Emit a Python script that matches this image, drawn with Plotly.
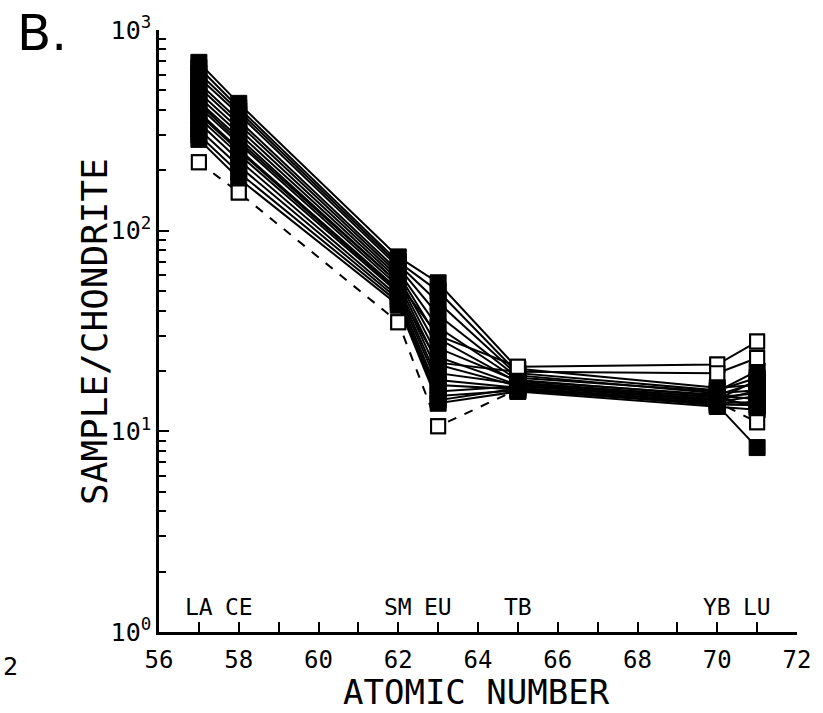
import plotly.graph_objects as go

# Rare earth elements plotted and their atomic numbers
elements = ["LA", "CE", "SM", "EU", "TB", "YB", "LU"]
atomic_numbers = [57, 58, 62, 63, 65, 70, 71]

# Chondrite-normalised abundances, filled-symbol samples (La, Ce, Sm, Eu, Tb, Yb, Lu)
s01 = [690, 431, 74, 55, 20.5, 16.5, 17]
s02 = [650, 410, 70, 50, 19.5, 16, 18.5]
s03 = [610, 395, 68, 44, 19, 15.5, 16]
s04 = [580, 380, 66, 38, 18.5, 15.8, 20]
s05 = [545, 355, 63, 33, 18, 15, 14.5]
s06 = [520, 340, 61, 29, 17.5, 14.8, 15.5]
s07 = [490, 322, 59, 26, 17.8, 15.2, 17.5]
s08 = [465, 305, 57, 23.5, 17, 14.5, 13.5]
s09 = [440, 290, 55, 21.5, 16.8, 14.2, 16]
s10 = [415, 272, 53, 19.5, 17.2, 14.8, 13.2]
s11 = [390, 255, 51, 18, 16.5, 14, 15]
s12 = [365, 240, 49, 17, 16.2, 13.8, 14]
s13 = [345, 225, 47, 15.8, 16.8, 14.4, 18]
s14 = [320, 210, 45.5, 15, 16, 13.6, 13.5]
s15 = [300, 195, 44, 14.3, 16.4, 13.5, 8.3]
s16 = [285, 182, 42.5, 13.8, 15.8, 13.3, 12.8]
filled_samples = [s01, s02, s03, s04, s05, s06, s07, s08,
                  s09, s10, s11, s12, s13, s14, s15, s16]

# Open-symbol samples
o_low = [219, 155, 35, 10.6, 16.2, 14, 11.1]     # dashed profile
o_flat = [430, 280, 55, 30, 21, 21.5, 28]
o_mid = [380, 250, 50, 22, 19.8, 19.5, 23.2]

x_ticks = [56, 58, 60, 62, 64, 66, 68, 70, 72]
y_ticks = [1, 10, 100, 1000]
y_tick_text = ["10<sup>0</sup>", "10<sup>1</sup>", "10<sup>2</sup>", "10<sup>3</sup>"]
y_minor = [m * d for d in [1, 10, 100] for m in range(2, 10)]

FONT = "DejaVu Sans Mono"
OPEN_MARKER = dict(symbol="square", size=14, color="white", line=dict(color="black", width=2))

fig = go.Figure()

def add_sample(values, open_symbol=False, dash="solid"):
    fig.add_trace(go.Scatter(
        x=atomic_numbers, y=values, mode="lines+markers",
        line=dict(color="black", width=2, dash=dash),
        marker=OPEN_MARKER if open_symbol else dict(
            symbol="square", size=16, color="black", line=dict(color="black", width=1)),
        showlegend=False, hoverinfo="skip",
    ))

add_sample(o_flat, open_symbol=True)
add_sample(o_mid, open_symbol=True)
add_sample(o_low, open_symbol=True, dash="dash")
for s in filled_samples:
    add_sample(s)
# open symbols that sit outside the filled band stay visible on top
fig.add_trace(go.Scatter(
    x=[57, 58, 62, 63, 65, 70, 71, 70, 71, 71],
    y=[o_low[0], o_low[1], o_low[2], o_low[3], o_flat[4], o_flat[5], o_flat[6],
       o_mid[5], o_mid[6], o_low[6]],
    mode="markers", marker=OPEN_MARKER,
    showlegend=False, hoverinfo="skip",
))

annotations = []
for el, z in zip(elements, atomic_numbers):
    annotations.append(dict(x=z, y=0.042, xref="x", yref="paper", text=el,
                            showarrow=False, font=dict(family=FONT, size=23, color="black"),
                            xanchor="center", yanchor="middle"))
annotations += [
    dict(x=-0.102, y=0.5, xref="paper", yref="paper", text="SAMPLE/CHONDRITE",
         textangle=-90, showarrow=False, font=dict(family=FONT, size=36, color="black"),
         xanchor="center", yanchor="middle"),
    dict(x=0.497, y=-0.1, xref="paper", yref="paper", text="ATOMIC NUMBER",
         showarrow=False, font=dict(family=FONT, size=34, color="black"),
         xanchor="center", yanchor="middle"),
    dict(x=-0.184, y=0.995, xref="paper", yref="paper", text="B.",
         showarrow=False, font=dict(family="DejaVu Sans", size=50, color="black"),
         xanchor="center", yanchor="middle"),
    dict(x=-0.232, y=-0.058, xref="paper", yref="paper", text="2",
         showarrow=False, font=dict(family=FONT, size=25, color="black"),
         xanchor="center", yanchor="middle"),
]

fig.update_layout(
    width=823, height=713,
    margin=dict(l=159, r=24, t=30, b=81),
    paper_bgcolor="white", plot_bgcolor="white",
    annotations=annotations,
    xaxis=dict(
        range=[56, 72], tickmode="array", tickvals=x_ticks,
        ticks="inside", ticklen=10, tickwidth=2, tickcolor="black",
        minor=dict(tickmode="array", tickvals=list(range(56, 73)), ticks="inside",
                   ticklen=10, tickwidth=2, tickcolor="black", showgrid=False),
        showline=True, linecolor="black", linewidth=2.5, mirror=False,
        showgrid=False, zeroline=False,
        tickfont=dict(family=FONT, size=24, color="black"),
        ticklabelstandoff=4,
    ),
    yaxis=dict(
        type="log", range=[0, 3], tickmode="array", tickvals=y_ticks, ticktext=y_tick_text,
        ticks="inside", ticklen=10, tickwidth=2, tickcolor="black",
        minor=dict(tickmode="array", tickvals=y_minor, ticks="inside",
                   ticklen=7, tickwidth=2, tickcolor="black", showgrid=False),
        showline=True, linecolor="black", linewidth=2.5, mirror=False,
        showgrid=False, zeroline=False,
        tickfont=dict(family=FONT, size=25, color="black"),
    ),
)

fig.write_html("out.html")
